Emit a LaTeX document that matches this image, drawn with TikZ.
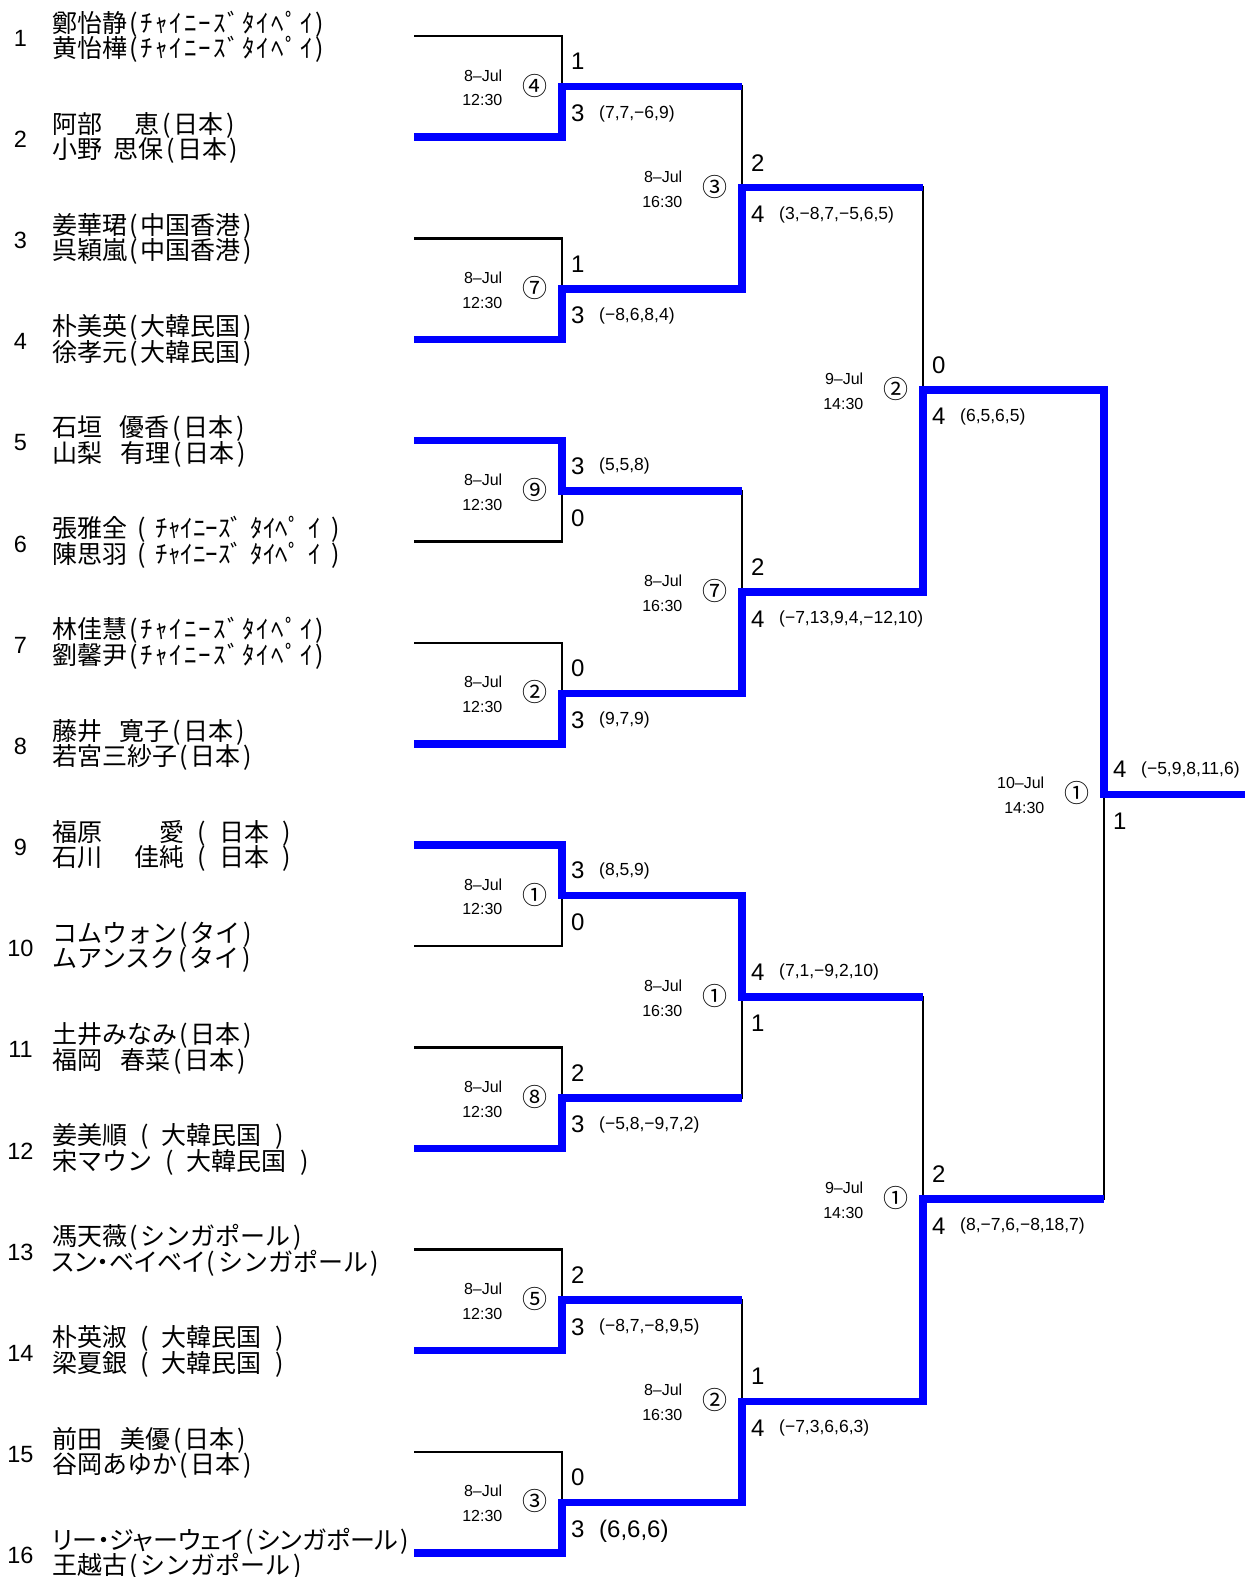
\documentclass[tikz,border=0pt]{standalone}
\usepackage{fontspec}
\setmainfont{Liberation Sans}
\newfontfamily\jp{Noto Sans CJK JP}
\newfontfamily\jpp[RawFeature=+palt]{Noto Sans CJK JP}
\newfontfamily\jph[LetterSpace=8]{Noto Sans CJK JP}
\newcommand\jlp{\makebox[0.55em][c]{(}}
\newcommand\jrp{\makebox[0.55em][c]{)}}
\newcommand\jsp{\hspace{0.42em}}
\newcommand\jss{\hspace{0.3em}}
\newcommand\jnd{{\jpp ・}}
\begin{document}
\begin{tikzpicture}[x=1pt,y=-1pt,
  blk/.style={black,line width=2.5pt},
  win/.style={blue,line width=7.5pt},
  seed/.style={font=\fontsize{23.5}{24}\selectfont,inner sep=0pt},
  pname/.style={font=\jp\fontsize{25}{25.5}\selectfont,anchor=base west,inner sep=0pt},
  dt/.style={font=\fontsize{16}{16}\selectfont,inner sep=0pt,anchor=base east},
  mno/.style={font=\jp\fontsize{25}{25}\selectfont,inner sep=0pt},
  score/.style={font=\fontsize{24}{24}\selectfont,inner sep=0pt,anchor=base west},
  sets/.style={inner sep=0pt,anchor=base west},
]
\fill[white] (0,0) rectangle (1245,1577);
\useasboundingbox (0,0) rectangle (1245,1577);

% players
\foreach \i/\na/\nb in {
1/{鄭怡静\jlp{}{\jph ﾁｬｲﾆｰｽﾞﾀｲﾍﾟｲ}\jrp}/{黄怡樺\jlp{}{\jph ﾁｬｲﾆｰｽﾞﾀｲﾍﾟｲ}\jrp},
2/{阿部\hspace{1.3em}恵\jlp{}日本\jrp}/{小野\hspace{0.45em}思保\jlp{}日本\jrp},
3/{姜華珺\jlp{}中国香港\jrp}/{呉穎嵐\jlp{}中国香港\jrp},
4/{朴美英\jlp{}大韓民国\jrp}/{徐孝元\jlp{}大韓民国\jrp},
5/{石垣\hspace{0.7em}優香\jlp{}日本\jrp}/{山梨\hspace{0.75em}有理\jlp{}日本\jrp},
6/{張雅全\jss\jlp\jss{}ﾁｬｲﾆｰｽﾞ\jss{}ﾀｲﾍﾟ\jss{}ｲ\jss\jrp}/{陳思羽\jss\jlp\jss{}ﾁｬｲﾆｰｽﾞ\jss{}ﾀｲﾍﾟ\jss{}ｲ\jss\jrp},
7/{林佳慧\jlp{}{\jph ﾁｬｲﾆｰｽﾞﾀｲﾍﾟｲ}\jrp}/{劉馨尹\jlp{}{\jph ﾁｬｲﾆｰｽﾞﾀｲﾍﾟｲ}\jrp},
8/{藤井\hspace{0.7em}寛子\jlp{}日本\jrp}/{若宮三紗子\jlp{}日本\jrp},
9/{福原\hspace{2.3em}愛\jsp\jlp\jsp{}日本\jsp\jrp}/{石川\hspace{1.3em}佳純\jsp\jlp\jsp{}日本\jsp\jrp},
10/{コムウォン\jlp{}タイ\jrp}/{ムアンスク\jlp{}タイ\jrp},
11/{土井みなみ\jlp{}日本\jrp}/{福岡\hspace{0.75em}春菜\jlp{}日本\jrp},
12/{姜美順\jsp\jlp\jsp{}大韓民国\jsp\jrp}/{宋マウン\jsp\jlp\jsp{}大韓民国\jsp\jrp},
13/{馮天薇\jlp{}シンガポール\jrp}/{{\jpp スン・ベイベイ}\jlp{}シンガポール\jrp},
14/{朴英淑\jsp\jlp\jsp{}大韓民国\jsp\jrp}/{梁夏銀\jsp\jlp\jsp{}大韓民国\jsp\jrp},
15/{前田\hspace{0.75em}美優\jlp{}日本\jrp}/{谷岡あゆか\jlp{}日本\jrp},
16/{{\jpp リー・ジャーウェイ}\jlp{}{\jpp シンガポール}\jrp}/{王越古\jlp{}シンガポール\jrp}}
{
  \pgfmathsetmacro\yy{36+(\i-1)*101.13}
  \coordinate (L\i) at (414,\yy);
  \node[seed] (s\i) at (20.5,\yy+2.5) {\i};
  \node[pname] (n\i a) at (52,\yy-3.8) {\na};
  \node[pname] (n\i b) at (52,\yy+21.7) {\nb};
}

% bracket points
\coordinate (A1) at (562,86.57);
\coordinate (A2) at (562,288.83);
\coordinate (A3) at (562,491.09);
\coordinate (A4) at (562,693.35);
\coordinate (A5) at (562,895.61);
\coordinate (A6) at (562,1097.87);
\coordinate (A7) at (562,1300.13);
\coordinate (A8) at (562,1502.39);
\coordinate (B1) at (742,187.70);
\coordinate (B2) at (742,592.22);
\coordinate (B3) at (742,996.74);
\coordinate (B4) at (742,1401.26);
\coordinate (C1) at (923,389.96);
\coordinate (C2) at (923,1199.00);
\coordinate (F) at (1104,794.48);
\coordinate (E) at (1245,794.48);

% black bracket
\foreach \k in {1,...,8}{
  \pgfmathtruncatemacro\p{2*\k-1}
  \pgfmathtruncatemacro\q{2*\k}
  \draw[blk] (L\p) -| (A\k) |- (L\q);
}
\draw[blk] (A1) -| (B1) |- (A2);
\draw[blk] (A3) -| (B2) |- (A4);
\draw[blk] (A5) -| (B3) |- (A6);
\draw[blk] (A7) -| (B4) |- (A8);
\draw[blk] (B1) -| (C1) |- (B2);
\draw[blk] (B3) -| (C2) |- (B4);
\draw[blk] (C1) -| (F) |- (C2);

% winners
\draw[win] (L2) -| (A1) -- (A1 -| B1);
\draw[win] (L4) -| (A2) -| (B1) -- (B1 -| C1);
\draw[win] (L5) -| (A3) -- (A3 -| B2);
\draw[win] (L8) -| (A4) -| (B2) -| (C1) -| (F) -- (E);
\draw[win] (L9) -| (A5) -| (B3) -- (B3 -| C2);
\draw[win] (L12) -| (A6) -- (A6 -| B3);
\draw[win] (L14) -| (A7) -- (A7 -| B4);
\draw[win] (L16) -| (A8) -| (B4) -| (C2) -- (C2 -| F);

% match labels
\foreach \mk/\mx/\mm/\md/\mt/\mc/\ma/\mb/\so/\ss/\fs in {
1/562/86.57/8–Jul/12:30/④/1/3/31.5/{(7,7,−6,9)}/17.5,
2/562/288.83/8–Jul/12:30/⑦/1/3/31.5/{(−8,6,8,4)}/17.5,
3/562/491.09/8–Jul/12:30/⑨/3/0/-20.2/{(5,5,8)}/17.5,
4/562/693.35/8–Jul/12:30/②/0/3/31.5/{(9,7,9)}/17.5,
5/562/895.61/8–Jul/12:30/①/3/0/-20.2/{(8,5,9)}/17.5,
6/562/1097.87/8–Jul/12:30/⑧/2/3/31.5/{(−5,8,−9,7,2)}/17.5,
7/562/1300.13/8–Jul/12:30/⑤/2/3/31.5/{(−8,7,−8,9,5)}/17.5,
8/562/1502.39/8–Jul/12:30/③/0/3/35/{(6,6,6)}/24,
9/742/187.70/8–Jul/16:30/③/2/4/31.5/{(3,−8,7,−5,6,5)}/17.5,
10/742/592.22/8–Jul/16:30/⑦/2/4/31.5/{(−7,13,9,4,−12,10)}/17.5,
11/742/996.74/8–Jul/16:30/①/4/1/-20.2/{(7,1,−9,2,10)}/17.5,
12/742/1401.26/8–Jul/16:30/②/1/4/31.5/{(−7,3,6,6,3)}/17.5,
13/923/389.96/9–Jul/14:30/②/0/4/31.5/{(6,5,6,5)}/17.5,
14/923/1199.00/9–Jul/14:30/①/2/4/31.5/{(8,−7,6,−8,18,7)}/17.5,
15/1104/794.48/10–Jul/14:30/①/4/1/-20.2/{(−5,9,8,11,6)}/17.5}
{
  \node[dt] (dt\mk) at (\mx-59.5,\mm-5.5) {\md};
  \node[dt] (tm\mk) at (\mx-59.5,\mm+19.3) {\mt};
  \node[mno] (mn\mk) at (\mx-27,\mm-1) {\mc};
  \node[score] (st\mk) at (\mx+9,\mm-16.7) {\ma};
  \node[score] (sb\mk) at (\mx+9,\mm+35) {\mb};
  \node[sets,font=\fontsize{\fs}{\fs}\selectfont] (ss\mk) at (\mx+37,\mm+\so) {\ss};
}
\end{tikzpicture}
\end{document}
